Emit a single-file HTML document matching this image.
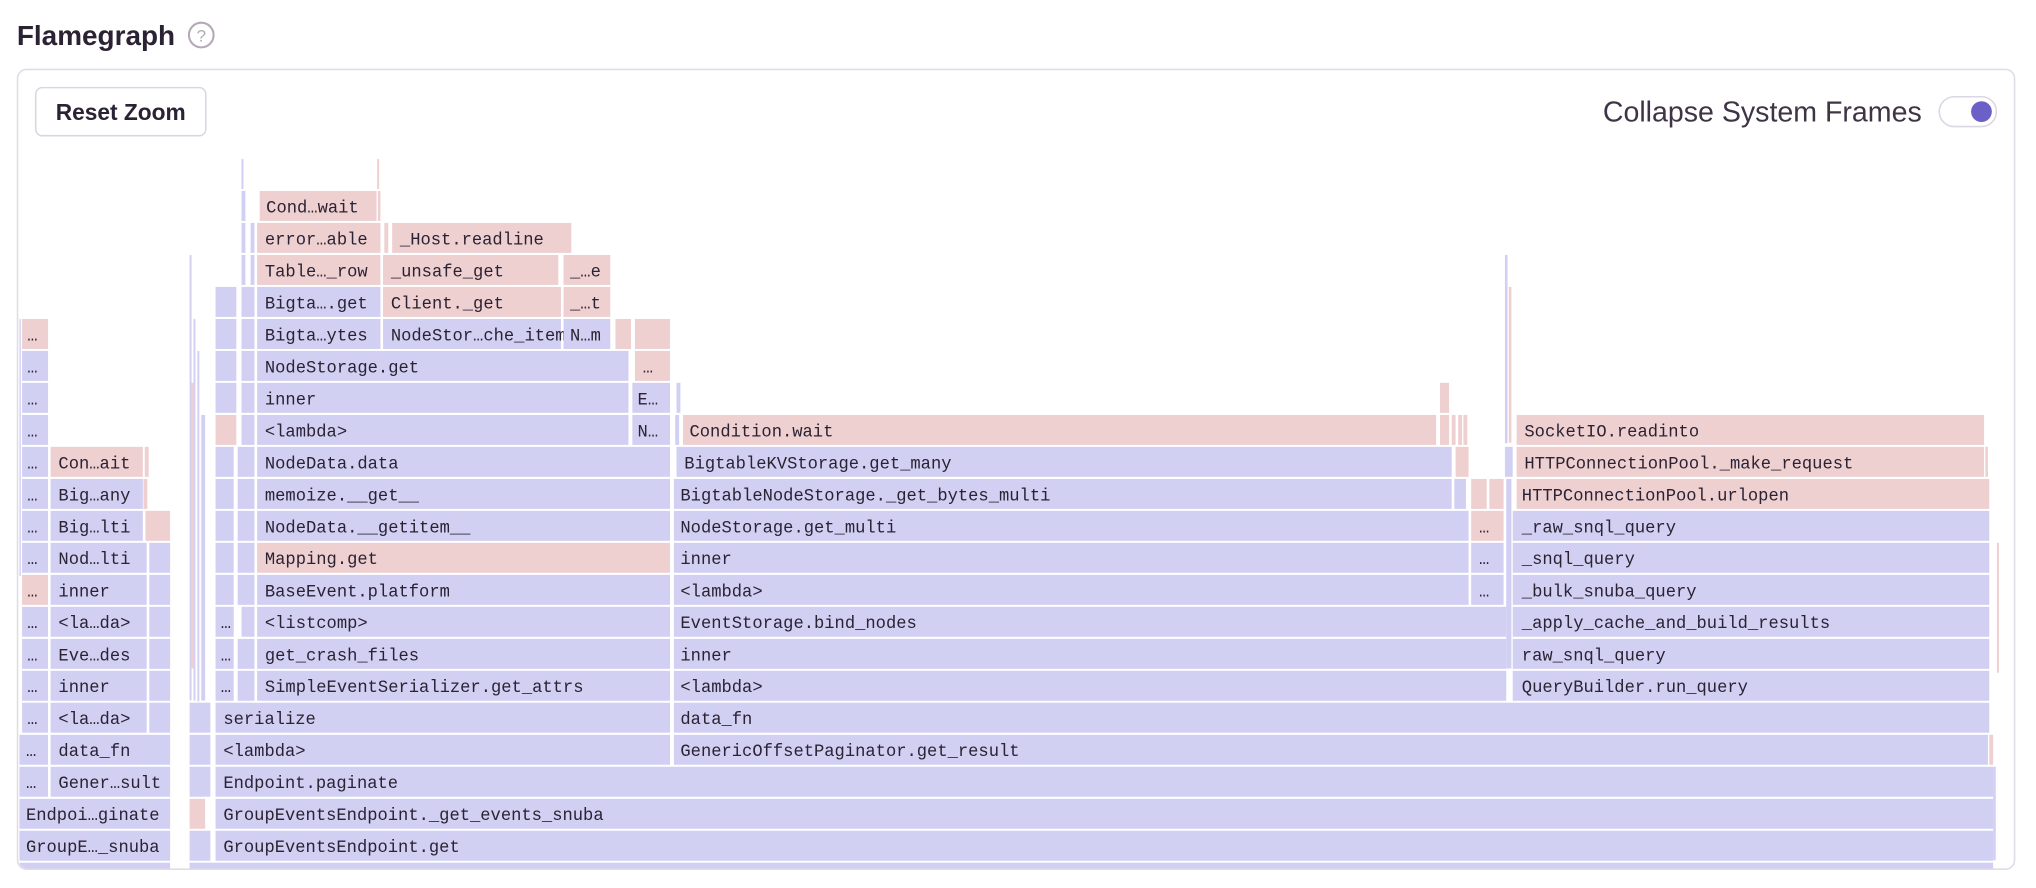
<!DOCTYPE html>
<html><head><meta charset="utf-8"><style>
html,body{margin:0;padding:0;background:#fff;}
body{width:2036px;height:888px;overflow:hidden;}
svg{display:block}
.b{fill:#d1d0f3}.p{fill:#eed0d1}
.t{font-family:"Liberation Mono",monospace;font-size:13.2px;fill:#2b2233}
</style></head><body>
<svg width="2036" height="888" viewBox="0 0 1568 684" preserveAspectRatio="none" xmlns="http://www.w3.org/2000/svg">
<text x="13" y="34.5" font-family="Liberation Sans, sans-serif" font-weight="bold" font-size="21.5" fill="#2b2233">Flamegraph</text>
<circle cx="155" cy="27" r="9.5" fill="none" stroke="#b5a9b8" stroke-width="1.6"/>
<text x="155" y="32" text-anchor="middle" font-family="Liberation Sans, sans-serif" font-size="13" fill="#b5a9b8">?</text>
<rect x="13.5" y="53.5" width="1538" height="616" rx="7" fill="#fff" stroke="#e0dbe6" stroke-width="1.2"/>
<rect x="27.5" y="67.5" width="131" height="37" rx="5" fill="#fff" stroke="#dcd6e2" stroke-width="1.2"/>
<text x="93" y="92.5" text-anchor="middle" font-family="Liberation Sans, sans-serif" font-weight="bold" font-size="17.5" fill="#2b2233">Reset Zoom</text>
<text x="1480" y="93.5" text-anchor="end" font-family="Liberation Sans, sans-serif" font-size="22" fill="#3e3446">Collapse System Frames</text>
<rect x="1493.5" y="74.5" width="44" height="23" rx="11.5" fill="#fff" stroke="#dcd6e2" stroke-width="1.2"/>
<circle cx="1526" cy="86" r="8" fill="#6c5fc7"/>
<clipPath id="c"><rect x="14" y="54" width="1537" height="615" rx="7"/></clipPath>
<g clip-path="url(#c)">
<rect class="b" x="15" y="664.5" width="116" height="8"/><rect class="b" x="146" y="664.5" width="1389" height="8"/>
<rect class="b" x="15" y="639.9" width="116" height="23.1"/><text class="t" x="20" y="656.4">GroupE…_snuba</text>
<rect class="b" x="15" y="615.3" width="116" height="23.1"/><text class="t" x="20" y="631.8">Endpoi…ginate</text>
<rect class="b" x="15" y="590.6" width="22" height="23.1"/><text class="t" x="20" y="607.1">…</text>
<rect class="b" x="39" y="590.6" width="92" height="23.1"/><text class="t" x="45" y="607.1">Gener…sult</text>
<rect class="b" x="15" y="566" width="22" height="23.1"/><text class="t" x="20" y="582.5">…</text>
<rect class="b" x="39" y="566" width="92" height="23.1"/><text class="t" x="45" y="582.5">data_fn</text>
<rect class="b" x="17" y="541.3" width="20" height="23.1"/><text class="t" x="21" y="557.8">…</text>
<rect class="b" x="39" y="541.3" width="74" height="23.1"/><text class="t" x="45" y="557.8">&lt;la…da&gt;</text><rect class="b" x="115" y="541.3" width="16" height="23.1"/>
<rect class="b" x="17" y="516.7" width="20" height="23.1"/><text class="t" x="21" y="533.2">…</text>
<rect class="b" x="39" y="516.7" width="74" height="23.1"/><text class="t" x="45" y="533.2">inner</text><rect class="b" x="115" y="516.7" width="16" height="23.1"/>
<rect class="b" x="17" y="492.1" width="20" height="23.1"/><text class="t" x="21" y="508.6">…</text>
<rect class="b" x="39" y="492.1" width="74" height="23.1"/><text class="t" x="45" y="508.6">Eve…des</text><rect class="b" x="115" y="492.1" width="16" height="23.1"/>
<rect class="b" x="17" y="467.4" width="20" height="23.1"/><text class="t" x="21" y="483.9">…</text>
<rect class="b" x="39" y="467.4" width="74" height="23.1"/><text class="t" x="45" y="483.9">&lt;la…da&gt;</text><rect class="b" x="115" y="467.4" width="16" height="23.1"/>
<rect class="p" x="17" y="442.8" width="20" height="23.1"/><text class="t" x="21" y="459.3">…</text>
<rect class="b" x="39" y="442.8" width="74" height="23.1"/><text class="t" x="45" y="459.3">inner</text><rect class="b" x="115" y="442.8" width="16" height="23.1"/>
<rect class="b" x="17" y="418.1" width="20" height="23.1"/><text class="t" x="21" y="434.6">…</text>
<rect class="b" x="39" y="418.1" width="74" height="23.1"/><text class="t" x="45" y="434.6">Nod…lti</text><rect class="b" x="115" y="418.1" width="16" height="23.1"/>
<rect class="b" x="17" y="393.5" width="20" height="23.1"/><text class="t" x="21" y="410">…</text>
<rect class="b" x="39" y="393.5" width="71" height="23.1"/><text class="t" x="45" y="410">Big…lti</text><rect class="p" x="112" y="393.5" width="19" height="23.1"/>
<rect class="b" x="17" y="368.9" width="20" height="23.1"/><text class="t" x="21" y="385.4">…</text>
<rect class="b" x="39" y="368.9" width="71" height="23.1"/><text class="t" x="45" y="385.4">Big…any</text><rect class="p" x="110.5" y="368.9" width="3" height="23.1"/>
<rect class="b" x="17" y="344.2" width="20" height="23.1"/><text class="t" x="21" y="360.7">…</text>
<rect class="p" x="39" y="344.2" width="71" height="23.1"/><text class="t" x="45" y="360.7">Con…ait</text><rect class="p" x="111.5" y="344.2" width="3" height="23.1"/>
<rect class="b" x="17" y="319.6" width="20" height="23.1"/><text class="t" x="21" y="336.1">…</text>
<rect class="b" x="17" y="294.9" width="20" height="23.1"/><text class="t" x="21" y="311.4">…</text>
<rect class="b" x="17" y="270.3" width="20" height="23.1"/><text class="t" x="21" y="286.8">…</text>
<rect class="p" x="17" y="245.7" width="20" height="23.1"/><text class="t" x="21" y="262.2">…</text>
<rect class="b" x="15" y="245.7" width="1" height="198"/>
<rect class="b" x="146" y="639.9" width="16" height="23.1"/>
<rect class="p" x="146" y="615.3" width="12" height="23.1"/>
<rect class="b" x="146" y="590.6" width="16" height="23.1"/>
<rect class="b" x="146" y="566" width="16" height="23.1"/>
<rect class="b" x="146" y="541.3" width="16" height="23.1"/>
<rect class="b" x="146" y="196.4" width="1.5" height="343"/>
<rect class="b" x="149" y="245.7" width="1.5" height="294"/>
<rect class="b" x="152" y="270.3" width="1.5" height="270"/>
<rect class="p" x="147.5" y="294.9" width="1.5" height="220"/>
<rect class="b" x="155" y="319.6" width="3" height="220"/>
<rect class="b" x="166" y="639.9" width="1369" height="23.1"/><text class="t" x="172" y="656.4">GroupEventsEndpoint.get</text>
<rect class="b" x="166" y="615.3" width="1369" height="23.1"/><text class="t" x="172" y="631.8">GroupEventsEndpoint._get_events_snuba</text>
<rect class="b" x="166" y="590.6" width="1369" height="23.1"/><text class="t" x="172" y="607.1">Endpoint.paginate</text>
<rect class="b" x="166" y="566" width="350" height="23.1"/><text class="t" x="172" y="582.5">&lt;lambda&gt;</text>
<rect class="b" x="519" y="566" width="1012" height="23.1"/><text class="t" x="524" y="582.5">GenericOffsetPaginator.get_result</text>
<rect class="p" x="1532" y="566" width="3" height="23.1"/>
<rect class="b" x="166" y="541.3" width="350" height="23.1"/><text class="t" x="172" y="557.8">serialize</text>
<rect class="b" x="519" y="541.3" width="1013" height="23.1"/><text class="t" x="524" y="557.8">data_fn</text>
<rect class="b" x="166" y="516.7" width="14" height="23.1"/><text class="t" x="170" y="533.2">…</text><rect class="b" x="183" y="516.7" width="13" height="23.1"/>
<rect class="b" x="198" y="516.7" width="318" height="23.1"/><text class="t" x="204" y="533.2">SimpleEventSerializer.get_attrs</text>
<rect class="b" x="519" y="516.7" width="641" height="23.1"/><text class="t" x="524" y="533.2">&lt;lambda&gt;</text>
<rect class="b" x="1165" y="516.7" width="367" height="23.1"/><text class="t" x="1172" y="533.2">QueryBuilder.run_query</text>
<rect class="b" x="166" y="492.1" width="14" height="23.1"/><text class="t" x="170" y="508.6">…</text><rect class="b" x="183" y="492.1" width="13" height="23.1"/>
<rect class="b" x="198" y="492.1" width="318" height="23.1"/><text class="t" x="204" y="508.6">get_crash_files</text>
<rect class="b" x="519" y="492.1" width="641" height="23.1"/><text class="t" x="524" y="508.6">inner</text>
<rect class="b" x="1165" y="492.1" width="367" height="23.1"/><text class="t" x="1172" y="508.6">raw_snql_query</text>
<rect class="b" x="166" y="467.4" width="14" height="23.1"/><text class="t" x="170" y="483.9">…</text><rect class="b" x="186" y="467.4" width="10" height="23.1"/>
<rect class="b" x="198" y="467.4" width="318" height="23.1"/><text class="t" x="204" y="483.9">&lt;listcomp&gt;</text>
<rect class="b" x="519" y="467.4" width="641" height="23.1"/><text class="t" x="524" y="483.9">EventStorage.bind_nodes</text>
<rect class="b" x="1165" y="467.4" width="367" height="23.1"/><text class="t" x="1172" y="483.9">_apply_cache_and_build_results</text>
<rect class="b" x="166" y="442.8" width="14" height="23.1"/><rect class="b" x="183" y="442.8" width="13" height="23.1"/>
<rect class="b" x="198" y="442.8" width="318" height="23.1"/><text class="t" x="204" y="459.3">BaseEvent.platform</text>
<rect class="b" x="519" y="442.8" width="612" height="23.1"/><text class="t" x="524" y="459.3">&lt;lambda&gt;</text>
<rect class="b" x="1133" y="442.8" width="25" height="23.1"/><text class="t" x="1139" y="459.3">…</text>
<rect class="b" x="1165" y="442.8" width="367" height="23.1"/><text class="t" x="1172" y="459.3">_bulk_snuba_query</text>
<rect class="b" x="166" y="418.1" width="14" height="23.1"/><rect class="b" x="183" y="418.1" width="13" height="23.1"/>
<rect class="p" x="198" y="418.1" width="318" height="23.1"/><text class="t" x="204" y="434.6">Mapping.get</text>
<rect class="b" x="519" y="418.1" width="612" height="23.1"/><text class="t" x="524" y="434.6">inner</text>
<rect class="b" x="1133" y="418.1" width="25" height="23.1"/><text class="t" x="1139" y="434.6">…</text>
<rect class="b" x="1165" y="418.1" width="367" height="23.1"/><text class="t" x="1172" y="434.6">_snql_query</text>
<rect class="b" x="166" y="393.5" width="14" height="23.1"/><rect class="b" x="183" y="393.5" width="13" height="23.1"/>
<rect class="b" x="198" y="393.5" width="318" height="23.1"/><text class="t" x="204" y="410">NodeData.__getitem__</text>
<rect class="b" x="519" y="393.5" width="612" height="23.1"/><text class="t" x="524" y="410">NodeStorage.get_multi</text>
<rect class="p" x="1133" y="393.5" width="25" height="23.1"/><text class="t" x="1139" y="410">…</text>
<rect class="b" x="1165" y="393.5" width="367" height="23.1"/><text class="t" x="1172" y="410">_raw_snql_query</text>
<rect class="b" x="166" y="368.9" width="14" height="23.1"/><rect class="b" x="183" y="368.9" width="13" height="23.1"/>
<rect class="b" x="198" y="368.9" width="318" height="23.1"/><text class="t" x="204" y="385.4">memoize.__get__</text>
<rect class="b" x="519" y="368.9" width="599" height="23.1"/><text class="t" x="524" y="385.4">BigtableNodeStorage._get_bytes_multi</text>
<rect class="b" x="1120" y="368.9" width="9" height="23.1"/>
<rect class="p" x="1133" y="368.9" width="12" height="23.1"/><rect class="p" x="1147" y="368.9" width="11" height="23.1"/>
<rect class="p" x="1168" y="368.9" width="364" height="23.1"/><text class="t" x="1172" y="385.4">HTTPConnectionPool.urlopen</text>
<rect class="b" x="166" y="344.2" width="14" height="23.1"/><rect class="b" x="183" y="344.2" width="13" height="23.1"/>
<rect class="b" x="198" y="344.2" width="318" height="23.1"/><text class="t" x="204" y="360.7">NodeData.data</text>
<rect class="b" x="521" y="344.2" width="597" height="23.1"/><text class="t" x="527" y="360.7">BigtableKVStorage.get_many</text>
<rect class="p" x="1121" y="344.2" width="10" height="23.1"/>
<rect class="p" x="1168" y="344.2" width="360" height="23.1"/><text class="t" x="1174" y="360.7">HTTPConnectionPool._make_request</text>
<rect class="p" x="1529" y="344.2" width="2" height="23.1"/>
<rect class="p" x="166" y="319.6" width="16" height="23.1"/><rect class="b" x="186" y="319.6" width="10" height="23.1"/>
<rect class="b" x="198" y="319.6" width="286" height="23.1"/><text class="t" x="204" y="336.1">&lt;lambda&gt;</text>
<rect class="b" x="487" y="319.6" width="29" height="23.1"/><text class="t" x="491" y="336.1">N…</text>
<rect class="b" x="520" y="319.6" width="3" height="23.1"/>
<rect class="p" x="526" y="319.6" width="580" height="23.1"/><text class="t" x="531" y="336.1">Condition.wait</text>
<rect class="p" x="1109" y="319.6" width="7" height="23.1"/><rect class="p" x="1118" y="319.6" width="3" height="23.1"/><rect class="p" x="1123" y="319.6" width="3" height="23.1"/><rect class="p" x="1127" y="319.6" width="3" height="23.1"/>
<rect class="p" x="1168" y="319.6" width="360" height="23.1"/><text class="t" x="1174" y="336.1">SocketIO.readinto</text>
<rect class="b" x="166" y="294.9" width="16" height="23.1"/><rect class="b" x="186" y="294.9" width="10" height="23.1"/>
<rect class="b" x="198" y="294.9" width="286" height="23.1"/><text class="t" x="204" y="311.4">inner</text>
<rect class="b" x="487" y="294.9" width="29" height="23.1"/><text class="t" x="491" y="311.4">E…</text>
<rect class="b" x="521" y="294.9" width="3" height="23.1"/>
<rect class="p" x="1109" y="294.9" width="7" height="23.1"/>
<rect class="b" x="166" y="270.3" width="16" height="23.1"/><rect class="b" x="186" y="270.3" width="10" height="23.1"/>
<rect class="b" x="198" y="270.3" width="286" height="23.1"/><text class="t" x="204" y="286.8">NodeStorage.get</text>
<rect class="p" x="489" y="270.3" width="27" height="23.1"/><text class="t" x="495" y="286.8">…</text>
<rect class="b" x="166" y="245.7" width="16" height="23.1"/><rect class="b" x="186" y="245.7" width="10" height="23.1"/>
<rect class="b" x="198" y="245.7" width="95" height="23.1"/><text class="t" x="204" y="262.2">Bigta…ytes</text>
<rect class="b" x="295" y="245.7" width="137" height="23.1"/><text class="t" x="301" y="262.2">NodeStor…che_item</text>
<rect class="b" x="434" y="245.7" width="36" height="23.1"/><text class="t" x="439" y="262.2">N…m</text>
<rect class="p" x="474" y="245.7" width="12" height="23.1"/><rect class="p" x="489" y="245.7" width="27" height="23.1"/>
<rect class="b" x="166" y="221" width="16" height="23.1"/><rect class="b" x="186" y="221" width="10" height="23.1"/>
<rect class="b" x="198" y="221" width="95" height="23.1"/><text class="t" x="204" y="237.5">Bigta….get</text>
<rect class="p" x="295" y="221" width="137" height="23.1"/><text class="t" x="301" y="237.5">Client._get</text>
<rect class="p" x="434" y="221" width="36" height="23.1"/><text class="t" x="439" y="237.5">_…t</text>
<rect class="b" x="186" y="196.4" width="3" height="23.1"/><rect class="b" x="193" y="196.4" width="3" height="23.1"/>
<rect class="p" x="198" y="196.4" width="95" height="23.1"/><text class="t" x="204" y="212.9">Table…_row</text>
<rect class="p" x="295" y="196.4" width="135" height="23.1"/><text class="t" x="301" y="212.9">_unsafe_get</text>
<rect class="p" x="434" y="196.4" width="36" height="23.1"/><text class="t" x="439" y="212.9">_…e</text>
<rect class="b" x="186" y="171.7" width="3" height="23.1"/><rect class="b" x="193" y="171.7" width="3" height="23.1"/>
<rect class="p" x="198" y="171.7" width="95" height="23.1"/><text class="t" x="204" y="188.2">error…able</text>
<rect class="p" x="296" y="171.7" width="3" height="23.1"/>
<rect class="p" x="302" y="171.7" width="138" height="23.1"/><text class="t" x="308" y="188.2">_Host.readline</text>
<rect class="b" x="186" y="147.1" width="3" height="23.1"/>
<rect class="p" x="200" y="147.1" width="90" height="23.1"/><text class="t" x="205" y="163.6">Cond…wait</text>
<rect class="p" x="291" y="147.1" width="2" height="23.1"/>
<rect class="b" x="186" y="122.5" width="1.5" height="23.1"/><rect class="p" x="290.5" y="122.5" width="1.5" height="23.1"/>
<rect class="b" x="1159" y="196.4" width="2" height="145"/>
<rect class="p" x="1162" y="221" width="2" height="120"/>
<rect class="b" x="1159" y="344.2" width="6" height="23.1"/>
<rect class="b" x="1160" y="368.9" width="4" height="146"/>
<rect class="b" x="1535" y="590.6" width="2" height="72"/>
<rect class="p" x="1538" y="418.1" width="1.5" height="100"/>
</g>
</svg>
</body></html>
